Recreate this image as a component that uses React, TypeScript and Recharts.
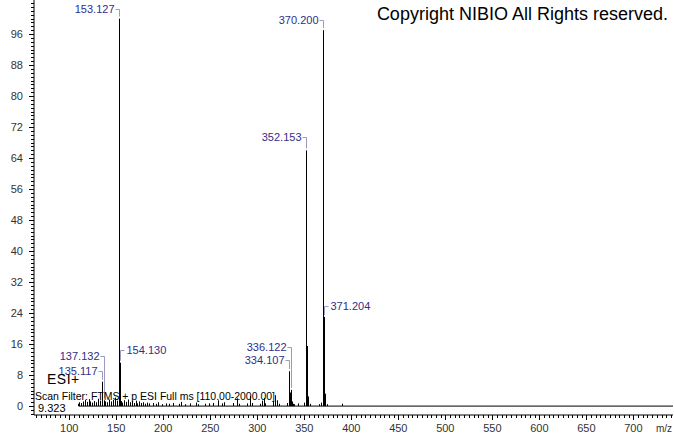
import React from 'react';
import { ComposedChart, Bar, XAxis, YAxis, ReferenceLine, LabelList } from 'recharts';

// m/z of each stick in the spectrum
const mzValues = [
  110.06, 111.08, 113.06, 115.05, 117.07, 119.05, 121.06, 123.08, 125.06, 127.04,
  129.07, 131.08, 133.08, 135.117, 137.132, 139.08, 141.07, 143.09, 145.06, 147.08,
  149.10, 151.11, 153.127, 154.130, 155.13, 157.10, 159.09, 161.10, 163.08, 165.09,
  167.11, 169.09, 171.10, 173.08, 175.08, 177.09, 179.10, 181.12, 183.10, 185.11,
  189.13, 193.12, 195.10, 199.11, 203.14, 207.13, 211.12, 217.14, 219.10, 223.13,
  229.14, 235.15, 237.13, 245.15, 249.16, 253.17, 259.15, 263.16, 265.15, 275.17,
  279.16, 281.17, 289.18, 293.18, 295.17, 303.17, 305.17, 307.18, 309.19, 317.19,
  319.20, 321.21, 323.20, 332.10, 334.107, 335.11, 336.122, 337.13, 338.14, 340.13,
  344.15, 350.14, 352.153, 353.156, 354.16, 356.15, 366.19, 368.19, 370.200, 371.204,
  372.21, 374.20, 391.20,
];

// relative abundance (%) of each stick
const intensities = [
  0.6, 1.0, 0.8, 1.2, 1.6, 1.1, 1.8, 1.2, 0.9, 1.3,
  1.0, 1.9, 1.4, 6.3, 1.5, 1.2, 1.0, 1.7, 1.2, 1.6,
  2.2, 1.4, 100, 11.2, 1.3, 0.9, 1.5, 1.1, 1.7, 1.0,
  1.3, 0.8, 1.4, 0.7, 1.2, 0.8, 1.0, 0.6, 0.9, 0.7,
  0.8, 0.6, 1.0, 0.5, 0.7, 0.6, 0.8, 0.6, 1.1, 0.5,
  0.7, 0.9, 0.5, 0.6, 0.7, 0.8, 1.5, 0.7, 1.0, 0.8,
  2.0, 0.6, 0.7, 2.6, 0.8, 0.6, 1.4, 2.1, 0.7, 1.2,
  2.8, 1.5, 0.6, 0.8, 9.0, 3.5, 4.2, 1.2, 0.6, 0.5,
  0.7, 0.9, 66, 15.5, 2.5, 0.6, 0.5, 0.9, 97, 23,
  3.2, 0.5, 0.6,
];

// peaks carrying an m/z annotation
const labeledPeaks = [135.117, 137.132, 153.127, 154.13, 334.107, 336.122, 352.153, 370.2, 371.204];

const yTickValues = Array.from({ length: 107 }, (_, i) => i - 2);
const xTickValues = Array.from({ length: 136 }, (_, i) => 65 + i * 5);

const data = mzValues.map((mz, i) => ({
  mz,
  intensity: intensities[i],
  label: labeledPeaks.includes(mz) ? mz.toFixed(3) : '',
}));

const FONT = '"Liberation Sans", Arial, sans-serif';
const LABEL_COLOR = '#2e2e8c';
const BRACKET_COLOR = '#9a9ac4';

const labelLayout: Record<string, { side: 'left' | 'right'; lift: number }> = {
  '135.117': { side: 'left', lift: 11 },
  '137.132': { side: 'left', lift: 44 },
  '153.127': { side: 'left', lift: 10 },
  '154.130': { side: 'right', lift: 13 },
  '334.107': { side: 'left', lift: 11 },
  '336.122': { side: 'left', lift: 43 },
  '352.153': { side: 'left', lift: 13 },
  '370.200': { side: 'left', lift: 10 },
  '371.204': { side: 'right', lift: 11 },
};

const PeakLabel = (props: any) => {
  const { x, y, width, value } = props;
  if (!value) return null;
  const lay = labelLayout[value];
  if (!lay) return null;
  const px = Math.floor(x + width / 2) + 0.5;
  const ty = Math.round(y - lay.lift) + 0.5;
  const bottom = y - 2;
  if (lay.side === 'left') {
    return (
      <g>
        <polyline points={`${px - 4},${ty} ${px},${ty} ${px},${bottom}`} fill="none" stroke={BRACKET_COLOR} strokeWidth={1} />
        <text x={px - 5} y={ty} dy="0.35em" textAnchor="end" fontSize={11} fontFamily={FONT} fill={LABEL_COLOR}>
          {value}
        </text>
      </g>
    );
  }
  return (
    <g>
      <polyline points={`${px},${bottom} ${px},${ty} ${px + 4},${ty}`} fill="none" stroke={BRACKET_COLOR} strokeWidth={1} />
      <text x={px + 6} y={ty} dy="0.35em" textAnchor="start" fontSize={11} fontFamily={FONT} fill={LABEL_COLOR}>
        {value}
      </text>
    </g>
  );
};

const StickShape = (props: any) => {
  const { x, y, width, height } = props;
  if (height === undefined || height <= 0) return null;
  const cx = Math.floor(x + width / 2);
  return <rect x={cx} y={y} width={1} height={height} fill="#000" />;
};

const YTick = (props: any) => {
  const { x, y, payload } = props;
  const v = Math.round(payload.value);
  const major = v >= 0 && v <= 96 && v % 8 === 0;
  const yy = Math.round(y) + 0.5;
  return (
    <g>
      <line x1={x - (major ? 5 : 3)} x2={x} y1={yy} y2={yy} stroke="#000" strokeWidth={1} />
      {major && (
        <text x={x - 11} y={y} dy="0.35em" textAnchor="end" fontSize={11} fontFamily={FONT} fill="#333">
          {v}
        </text>
      )}
    </g>
  );
};

const XTick = (props: any) => {
  const { x, y, payload } = props;
  const v = Math.round(payload.value);
  const major = v % 50 === 0;
  const xx = Math.round(x) + 0.5;
  return (
    <g>
      <line x1={xx} x2={xx} y1={y} y2={y + (major ? 5 : 3)} stroke="#000" strokeWidth={1} />
      {major && v >= 100 && v <= 700 && (
        <text x={x} y={y + 13} dy="0.35em" textAnchor="middle" fontSize={11} fontFamily={FONT} fill="#333">
          {v}
        </text>
      )}
    </g>
  );
};

export default function App() {
  return (
    <div style={{ position: 'absolute', left: 0, top: 0, width: 674, height: 434, background: '#fff' }}>
      <ComposedChart
        width={674}
        height={434}
        data={data}
        margin={{ top: 0, right: 1, bottom: 0, left: 0 }}
      >
        <XAxis
          type="number"
          dataKey="mz"
          domain={[62.45, 742.2]}
          allowDataOverflow
          ticks={xTickValues}
          interval={0}
          height={19}
          tickSize={0}
          tickMargin={0}
          tick={<XTick />}
          axisLine={{ stroke: '#000' }}
          tickLine={false}
        />
        <YAxis
          type="number"
          domain={[-2.3, 104.8]}
          allowDataOverflow
          ticks={yTickValues}
          interval={0}
          width={34}
          tickSize={0}
          tickMargin={0}
          tick={<YTick />}
          axisLine={{ stroke: '#000' }}
          tickLine={false}
        />
        <ReferenceLine
          segment={[{ x: 110, y: 0 }, { x: 742.2, y: 0 }]}
          stroke="#000"
          strokeWidth={1}
        />
        <Bar dataKey="intensity" barSize={1} shape={<StickShape />} isAnimationActive={false}>
          <LabelList dataKey="label" content={<PeakLabel />} />
        </Bar>
      </ComposedChart>
      <svg
        width={674}
        height={434}
        style={{ position: 'absolute', left: 0, top: 0, pointerEvents: 'none' }}
      >
        <text x={668} y={20} textAnchor="end" fontSize={18} fontFamily={FONT} fill="#000">
          Copyright NIBIO All Rights reserved.
        </text>
        <text x={47} y={384} fontSize={14} fontFamily={FONT} fill="#000" letterSpacing={0.5}>
          ESI+
        </text>
        <text x={35} y={400} fontSize={11} fontFamily={FONT} fill="#000" textLength={240} lengthAdjust="spacingAndGlyphs">
          Scan Filter: FTMS + p ESI Full ms [110.00-2000.00]
        </text>
        <text x={38} y={412} fontSize={11} fontFamily={FONT} fill="#000">
          9.323
        </text>
        <text x={672} y={428} dy="0.35em" textAnchor="end" fontSize={10} fontFamily={FONT} fill="#333">
          m/z
        </text>
      </svg>
    </div>
  );
}
